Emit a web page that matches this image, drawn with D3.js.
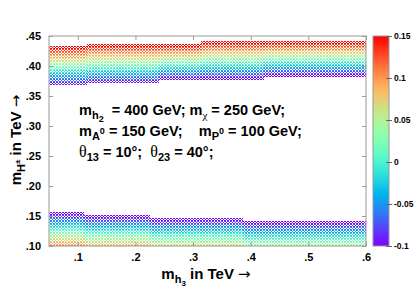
<!DOCTYPE html>
<html>
<head>
<meta charset="utf-8">
<script src="https://cdn.jsdelivr.net/npm/d3@7"></script>
<style>
  body { margin: 0; background: #fff; }
  svg text { font-family: "Liberation Sans", Arial, sans-serif; font-weight: bold; fill: #000; white-space: pre; }
  .greek { font-family: "Liberation Serif", "DejaVu Serif", serif; font-weight: normal; }
  .arrow { font-family: "DejaVu Sans", sans-serif; font-weight: normal; }
</style>
</head>
<body>
<svg id="chart" width="415" height="291"></svg>
<script>
// tick values
const xTicks = [0.1, 0.2, 0.3, 0.4, 0.5, 0.6];
const yTicks = [0.10, 0.15, 0.20, 0.25, 0.30, 0.35, 0.40, 0.45];
const cbTicks = [-0.1, -0.05, 0, 0.05, 0.1, 0.15];

// scan step of the grid (TeV)
const mh3Step = 0.0052;
const mhcStep = 0.005;

// upper band, top edge = 0.15 contour, bottom edge = -0.1 contour
const upTopBreaks = [0.05, 0.115, 0.312, 0.6];
const upTopMhc = [0.432, 0.4355, 0.44];
const upBotBreaks = [0.05, 0.117, 0.241, 0.422, 0.6];
const upBotMhc = [0.3695, 0.3728, 0.3795, 0.385];

// lower band, top edge = -0.1 contour, 0.15 contour is below the frame
const lowBreaks = [0.05, 0.112, 0.225, 0.387, 0.6];
const lowTopMhc = [0.1545, 0.150, 0.1458, 0.1395];
const lowBotMhc = [0.0895, 0.085, 0.081, 0.0745];

const svg = d3.select("#chart");

const x = d3.scaleLinear().domain([0.05, 0.6]).range([49, 366]);
const y = d3.scaleLinear().domain([0.10, 0.45]).range([246, 36]);
const cbY = d3.scaleLinear().domain([-0.1, 0.15]).range([246, 36]);

// gnuplot style rainbow (rgbformulae 33,13,10)
const rainbow = t => d3.rgb(
  255 * Math.min(1, Math.abs(2 * t - 0.5)),
  255 * Math.sin(Math.PI * t),
  255 * Math.cos(Math.PI * t / 2)) + "";
const colour = d3.scaleSequential(rainbow).domain([-0.1, 0.15]).clamp(true);

function stepAt(breaks, vals, m) {
  let i = d3.bisectRight(breaks, m) - 1;
  return vals[Math.max(0, Math.min(vals.length - 1, i))];
}

// build scan points
const points = [];
d3.range(0.05, 0.6 + 1e-9, mh3Step).forEach(m3 => {
  const top = stepAt(upTopBreaks, upTopMhc, m3);
  const bot = stepAt(upBotBreaks, upBotMhc, m3);
  for (let h = top; h >= bot - 1e-9; h -= mhcStep) {
    points.push({ m3, h, v: -0.1 + 0.25 * (h - bot) / (top - bot) });
  }
  const lt = stepAt(lowBreaks, lowTopMhc, m3);
  const lb = stepAt(lowBreaks, lowBotMhc, m3);
  for (let h = lt; h >= 0.10 - 0.002; h -= mhcStep) {
    points.push({ m3, h, v: -0.1 + 0.25 * (lt - h) / (lt - lb) });
  }
});

svg.append("clipPath").attr("id", "plotclip")
  .append("rect").attr("x", 49).attr("y", 36).attr("width", 317).attr("height", 210);

// small x markers, pixel aligned
const cross = (cx, cy) => [[-1, -1], [1, -1], [0, 0], [-1, 1], [1, 1]]
  .map(([dx, dy]) => `M${cx + dx},${cy + dy}h1v1h-1z`).join("");

svg.append("g").attr("clip-path", "url(#plotclip)")
  .selectAll("path").data(points).join("path")
  .attr("d", d => cross(Math.round(x(d.m3)), Math.round(y(d.h))))
  .attr("fill", d => colour(d.v))
  .attr("shape-rendering", "crispEdges");

// axes
const fmtX = d => d3.format(".1f")(d).replace(/^0/, "");
const fmtY = d => d3.format(".2f")(d).replace(/^0/, "");

function styleAxis(g) {
  g.select(".domain").remove();
  g.selectAll(".tick line").attr("stroke", "#999");
  g.selectAll(".tick text").attr("font-size", 11);
}

svg.append("g").attr("transform", "translate(0,246)")
  .call(d3.axisBottom(x).tickValues(xTicks).tickSize(-4).tickPadding(7).tickFormat(fmtX))
  .call(styleAxis);
svg.append("g").attr("transform", "translate(0,36)")
  .call(d3.axisTop(x).tickValues(xTicks).tickSize(-4).tickFormat(""))
  .call(styleAxis);
svg.append("g").attr("transform", "translate(49,0)")
  .call(d3.axisLeft(y).tickValues(yTicks).tickSize(-4).tickPadding(8).tickFormat(fmtY))
  .call(styleAxis);
svg.append("g").attr("transform", "translate(366,0)")
  .call(d3.axisRight(y).tickValues(yTicks).tickSize(-4).tickFormat(""))
  .call(styleAxis);

svg.append("rect").attr("x", 49).attr("y", 36).attr("width", 317).attr("height", 210)
  .attr("fill", "none").attr("stroke", "#999");

// colour bar
const grad = svg.append("defs").append("linearGradient").attr("id", "cbgrad")
  .attr("x1", 0).attr("y1", 1).attr("x2", 0).attr("y2", 0);
grad.selectAll("stop").data(d3.range(0, 1.0001, 0.05)).join("stop")
  .attr("offset", d => d)
  .attr("stop-color", d => colour(-0.1 + 0.25 * d));

svg.append("rect").attr("x", 373).attr("y", 36).attr("width", 16).attr("height", 210)
  .attr("fill", "url(#cbgrad)").attr("stroke", "#999");

svg.append("g").attr("transform", "translate(389,0)")
  .call(d3.axisRight(cbY).tickValues(cbTicks).tickSize(3).tickPadding(2).tickFormat(d => String(d)))
  .call(g => {
    g.select(".domain").remove();
    g.selectAll(".tick line").attr("stroke", "#666").attr("x1", -3);
    g.selectAll(".tick text").attr("font-size", 8.5);
  });

// axis titles
const xl = svg.append("text").attr("x", 206).attr("y", 279)
  .attr("text-anchor", "middle").attr("font-size", 15);
xl.append("tspan").text("m");
xl.append("tspan").attr("font-size", 11).attr("dy", 4).text("h");
xl.append("tspan").attr("font-size", 8).attr("dy", 3).text("3");
xl.append("tspan").attr("dy", -7).text(" in TeV ");
xl.append("tspan").attr("class", "arrow").text("\u2192");

const yl = svg.append("text").attr("transform", "translate(21,140) rotate(-90)")
  .attr("text-anchor", "middle").attr("font-size", 15);
yl.append("tspan").text("m");
yl.append("tspan").attr("font-size", 11).attr("dy", 4).text("H");
yl.append("tspan").attr("font-size", 8).attr("dy", -5).text("\u00b1");
yl.append("tspan").attr("dy", 1).text(" in TeV ");
yl.append("tspan").attr("class", "arrow").text("\u2192");

// parameter box
const ann = svg.append("g").attr("font-size", 14.5);
const l1 = ann.append("text").attr("x", 79).attr("y", 115);
l1.append("tspan").text("m");
l1.append("tspan").attr("font-size", 11).attr("dy", 4).text("h");
l1.append("tspan").attr("font-size", 9).attr("dy", 3).text("2");
l1.append("tspan").attr("dy", -7).text("  = 400 GeV; m");
l1.append("tspan").attr("class", "greek").attr("font-size", 11).attr("dy", 4).text("\u03c7");
l1.append("tspan").attr("dy", -4).text(" = 250 GeV;");

const l2 = ann.append("text").attr("x", 79).attr("y", 136);
l2.append("tspan").text("m");
l2.append("tspan").attr("font-size", 11).attr("dy", 4).text("A");
l2.append("tspan").attr("font-size", 9).attr("dy", -6).text("0");
l2.append("tspan").attr("dy", 2).text(" = 150 GeV;    m");
l2.append("tspan").attr("font-size", 11).attr("dy", 4).text("P");
l2.append("tspan").attr("font-size", 9).attr("dy", -6).text("0");
l2.append("tspan").attr("dy", 2).text(" = 100 GeV;");

const l3 = ann.append("text").attr("x", 79).attr("y", 157);
l3.append("tspan").attr("class", "greek").attr("font-size", 16).text("\u03b8");
l3.append("tspan").attr("font-size", 11).attr("dy", 4).text("13");
l3.append("tspan").attr("dy", -4).text(" = 10\u00b0;  ");
l3.append("tspan").attr("class", "greek").attr("font-size", 16).text("\u03b8");
l3.append("tspan").attr("font-size", 11).attr("dy", 4).text("23");
l3.append("tspan").attr("dy", -4).text(" = 40\u00b0;");
</script>
</body>
</html>
